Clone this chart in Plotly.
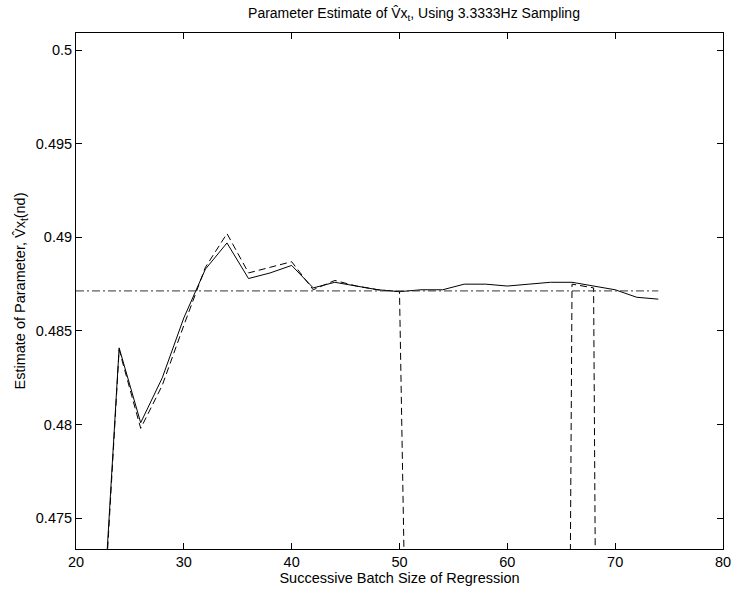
import plotly.graph_objects as go

# Batch sizes (x) and parameter estimates
batch_size = [22, 24, 26, 28, 30, 32, 34, 36, 38, 40, 42, 44, 46, 48, 50,
              52, 54, 56, 58, 60, 62, 64, 66, 68, 70, 72, 74]
estimate_solid = [0.4646, 0.4841, 0.4801, 0.4825, 0.4857, 0.4883, 0.4897, 0.4878,
                  0.4881, 0.4885, 0.4873, 0.4876, 0.4874, 0.4872, 0.4871,
                  0.4872, 0.4872, 0.4875, 0.4875, 0.4874, 0.4875, 0.4876,
                  0.4876, 0.4874, 0.4872, 0.4868, 0.4867]
estimate_dashed = [0.4640, 0.4840, 0.4798, 0.4821, 0.4853, 0.4884, 0.4902, 0.4881,
                   0.4884, 0.4887, 0.4872, 0.4877, 0.4874, 0.4872, 0.4871,
                   0.4200, None, None, None, None, None, 0.3000,
                   0.4875, 0.4873, 0.3000, None, None]
reference_x = [20, 74]
reference_value = [0.48714, 0.48714]

y_ticks = [0.475, 0.48, 0.485, 0.49, 0.495, 0.5]
y_tick_labels = ["0.475", "0.48", "0.485", "0.49", "0.495", "0.5"]
x_ticks = [20, 30, 40, 50, 60, 70, 80]

FONT = "Liberation Sans, Arial, Helvetica, sans-serif"

fig = go.Figure()
fig.add_trace(go.Scatter(x=batch_size, y=estimate_solid, mode="lines",
                         line=dict(color="black", width=1), showlegend=False))
fig.add_trace(go.Scatter(x=batch_size, y=estimate_dashed, mode="lines",
                         connectgaps=False,
                         line=dict(color="black", width=1, dash="7px,4px"),
                         showlegend=False))
fig.add_trace(go.Scatter(x=reference_x, y=reference_value, mode="lines",
                         line=dict(color="#333333", width=1, dash="8px,3px,2px,3px"),
                         showlegend=False))

axis_common = dict(showline=True, linecolor="black", linewidth=1, mirror="ticks",
                   ticks="inside", ticklen=6, tickcolor="black", tickwidth=1,
                   showgrid=False, zeroline=False, ticklabeloverflow="allow",
                   tickfont=dict(family=FONT, size=14.5, color="black"))

fig.update_layout(
    width=739, height=592,
    margin=dict(l=76, r=8, t=33, b=43),
    paper_bgcolor="white", plot_bgcolor="white",
    title=dict(text="Parameter Estimate of V\u0302x<sub>t</sub>, Using 3.3333Hz Sampling",
               x=414 / 739, xanchor="center", y=1 - 13 / 592, yanchor="middle",
               yref="container",
               font=dict(family=FONT, size=14, color="black")),
    xaxis=dict(range=[20, 80], tickvals=x_ticks,
               title=dict(text="Successive Batch Size of Regression", standoff=2,
                          font=dict(family=FONT, size=14.5, color="black")),
               **axis_common),
    yaxis=dict(range=[0.47336, 0.50091], tickvals=y_ticks, ticktext=y_tick_labels,
               title=dict(text="Estimate of Parameter, V\u0302x<sub>t</sub>(nd)", standoff=6,
                          font=dict(family=FONT, size=14.5, color="black")),
               **axis_common),
)

fig.write_html("out.html")
